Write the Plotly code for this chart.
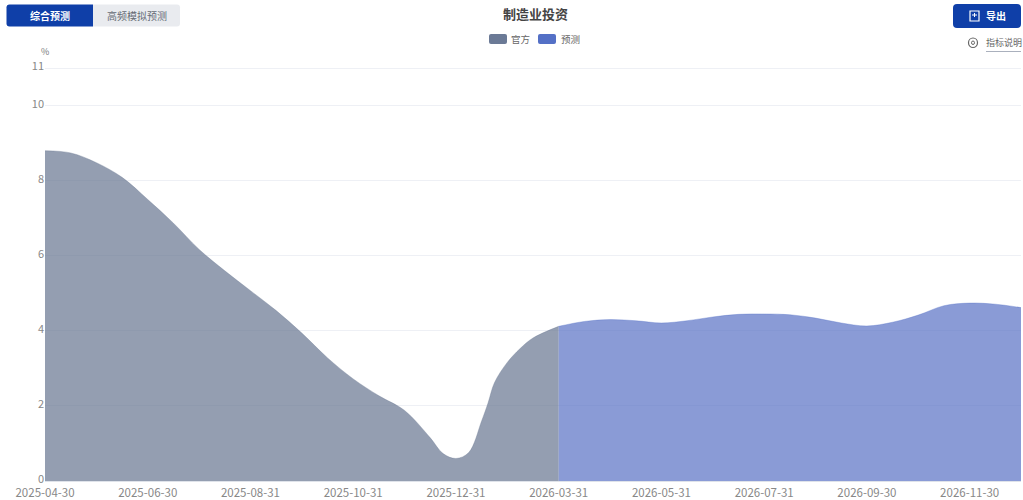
import plotly.graph_objects as go

# Horizontal position of each reading, counted in reporting periods since 2025-04-30
official_pos = [0,0.5,1,1.5,2,2.5,3,3.5,4,4.5,5,5.5,6,6.5,7,7.5,7.75,8,8.25,8.5,8.625,8.75,9,9.25,9.5,10]
official = [8.8,8.74,8.48,8.09,7.5,6.87,6.17,5.6,5.07,4.54,3.94,3.28,2.72,2.27,1.88,1.15,0.73,0.6,0.76,1.6,2.08,2.62,3.16,3.53,3.81,4.12]
forecast_pos = [10,10.5,11,11.5,12,12.5,13,13.5,14,14.5,15,15.5,16,16.5,17,17.5,18,18.5,19]
forecast = [4.12,4.25,4.3,4.27,4.21,4.27,4.37,4.44,4.45,4.43,4.34,4.21,4.13,4.23,4.42,4.67,4.74,4.71,4.62]
tick_pos = [0,2,4,6,8,10,12,14,16,18]
tick_dates = ["2025-04-30","2025-06-30","2025-08-31","2025-10-31","2025-12-31","2026-03-31","2026-05-31","2026-07-31","2026-09-30","2026-11-30"]
y_ticks = [0,2,4,6,8,10,11]

W, H = 1023, 500
L, R, T, B = 45, 2, 67, 19
FONT = "Noto Sans CJK SC, Noto Sans, sans-serif"

def px(x): return (x - L) / (W - L - R)
def py(y): return 1 - (y - T) / (H - T - B)

def rrect(x0, y0, x1, y1, r, fill, corners=(1,1,1,1), line=None):
    tl, tr, br, bl = [r*c for c in corners]
    def P(x, y): return f"{px(x):.5f} {py(y):.5f}"
    path = (f"M {P(x0+tl,y0)} L {P(x1-tr,y0)} Q {P(x1,y0)} {P(x1,y0+tr)} "
            f"L {P(x1,y1-br)} Q {P(x1,y1)} {P(x1-br,y1)} L {P(x0+bl,y1)} Q {P(x0,y1)} {P(x0,y1-bl)} "
            f"L {P(x0,y0+tl)} Q {P(x0,y0)} {P(x0+tl,y0)} Z")
    return dict(type="path", xref="paper", yref="paper", path=path, fillcolor=fill,
                line=dict(width=0 if line is None else 1, color=line or fill), layer="above")

def label(x, y, text, size=10, color="#666", bold=False, anchor="center"):
    return dict(xref="paper", yref="paper", x=px(x), y=py(y), text=f"<b>{text}</b>" if bold else text,
                showarrow=False, xanchor=anchor, yanchor="middle",
                font=dict(size=size, color=color, family=FONT))

def seg(x0, y0, x1, y1, color, w=1):
    return dict(type="line", xref="paper", yref="paper", x0=px(x0), y0=py(y0), x1=px(x1), y1=py(y1),
                line=dict(color=color, width=w), layer="above")

def circle(x0, y0, x1, y1, color, w=1.2):
    return dict(type="circle", xref="paper", yref="paper", x0=px(x0), y0=py(y0), x1=px(x1), y1=py(y1),
                line=dict(color=color, width=w), layer="above")

fig = go.Figure()
fig.add_trace(go.Scatter(name="官方", x=official_pos, y=official, mode="lines", fill="tozeroy",
                         line=dict(shape="spline", smoothing=1, width=0.5, color="rgba(102,117,144,0.7)"),
                         fillcolor="rgba(102,117,144,0.7)", hoverinfo="y"))
fig.add_trace(go.Scatter(name="预测", x=forecast_pos, y=forecast, mode="lines", fill="tozeroy",
                         line=dict(shape="spline", smoothing=1, width=0.5, color="rgba(84,112,198,0.7)"),
                         fillcolor="rgba(88,112,196,0.7)", hoverinfo="y"))

shapes = [
    rrect(6.5, 4.5, 93, 26.5, 3, "#0f3fa8", corners=(1,0,0,1)),
    rrect(93, 4.5, 180, 26.5, 3, "#e9ebef", corners=(0,1,1,0)),
    rrect(953, 4, 1021, 28, 4, "#0f3fa8"),
    dict(type="rect", xref="paper", yref="paper", x0=px(970), y0=py(11), x1=px(979), y1=py(21),
         line=dict(color="#ffffff", width=1.2), layer="above"),
    seg(972, 15, 977, 15, "#ffffff"),
    seg(974.5, 13, 974.5, 17, "#ffffff"),
    rrect(489, 34, 507, 44, 2, "#6b7a96"),
    rrect(538, 34, 556, 44, 2, "#5470c6"),
    circle(968.5, 38, 977.5, 47.5, "#666"),
    circle(971.5, 41, 974.5, 44.5, "#666", 1),
    seg(986, 51.5, 1021, 51.5, "#aab0bd"),
]
annotations = [
    label(49.5, 15.5, "综合预测", 10, "#ffffff", True),
    label(136.5, 15.5, "高频模拟预测", 10, "#666b75"),
    label(535, 14, "制造业投资", 13, "#444444", True),
    label(520.5, 39, "官方", 9.5, "#666"),
    label(570, 39, "预测", 9.5, "#666"),
    label(996, 15.5, "导出", 10, "#ffffff", True),
    label(1003.5, 43, "指标说明", 9, "#666"),
    label(44.5, 51.5, "%", 9, "#777"),
]

fig.update_layout(
    width=W, height=H, margin=dict(l=L, r=R, t=T, b=B, pad=0),
    paper_bgcolor="#ffffff", plot_bgcolor="#ffffff", showlegend=False,
    font=dict(family=FONT, color="#888888", size=11),
    shapes=shapes, annotations=annotations,
    xaxis=dict(range=[0, 19], tickmode="array", tickvals=tick_pos, ticktext=tick_dates, showgrid=False, ticks="",
               zeroline=False, showline=True, linecolor="#dfe3ea", linewidth=1, tickangle=0, ticklabelstandoff=1,
               tickfont=dict(size=11.5, color="#888888"), automargin=False),
    yaxis=dict(range=[0, 11.03], tickmode="array", tickvals=y_ticks, showgrid=True, gridcolor="#eef0f5", gridwidth=1,
               zeroline=False, ticks="", showline=False, tickfont=dict(size=11, color="#888888"),
               ticklabelshift=-2, automargin=False, layer="below traces"),
)

fig.write_html("out.html", config={"displayModeBar": False}, post_script="document.body.style.margin='0';")
